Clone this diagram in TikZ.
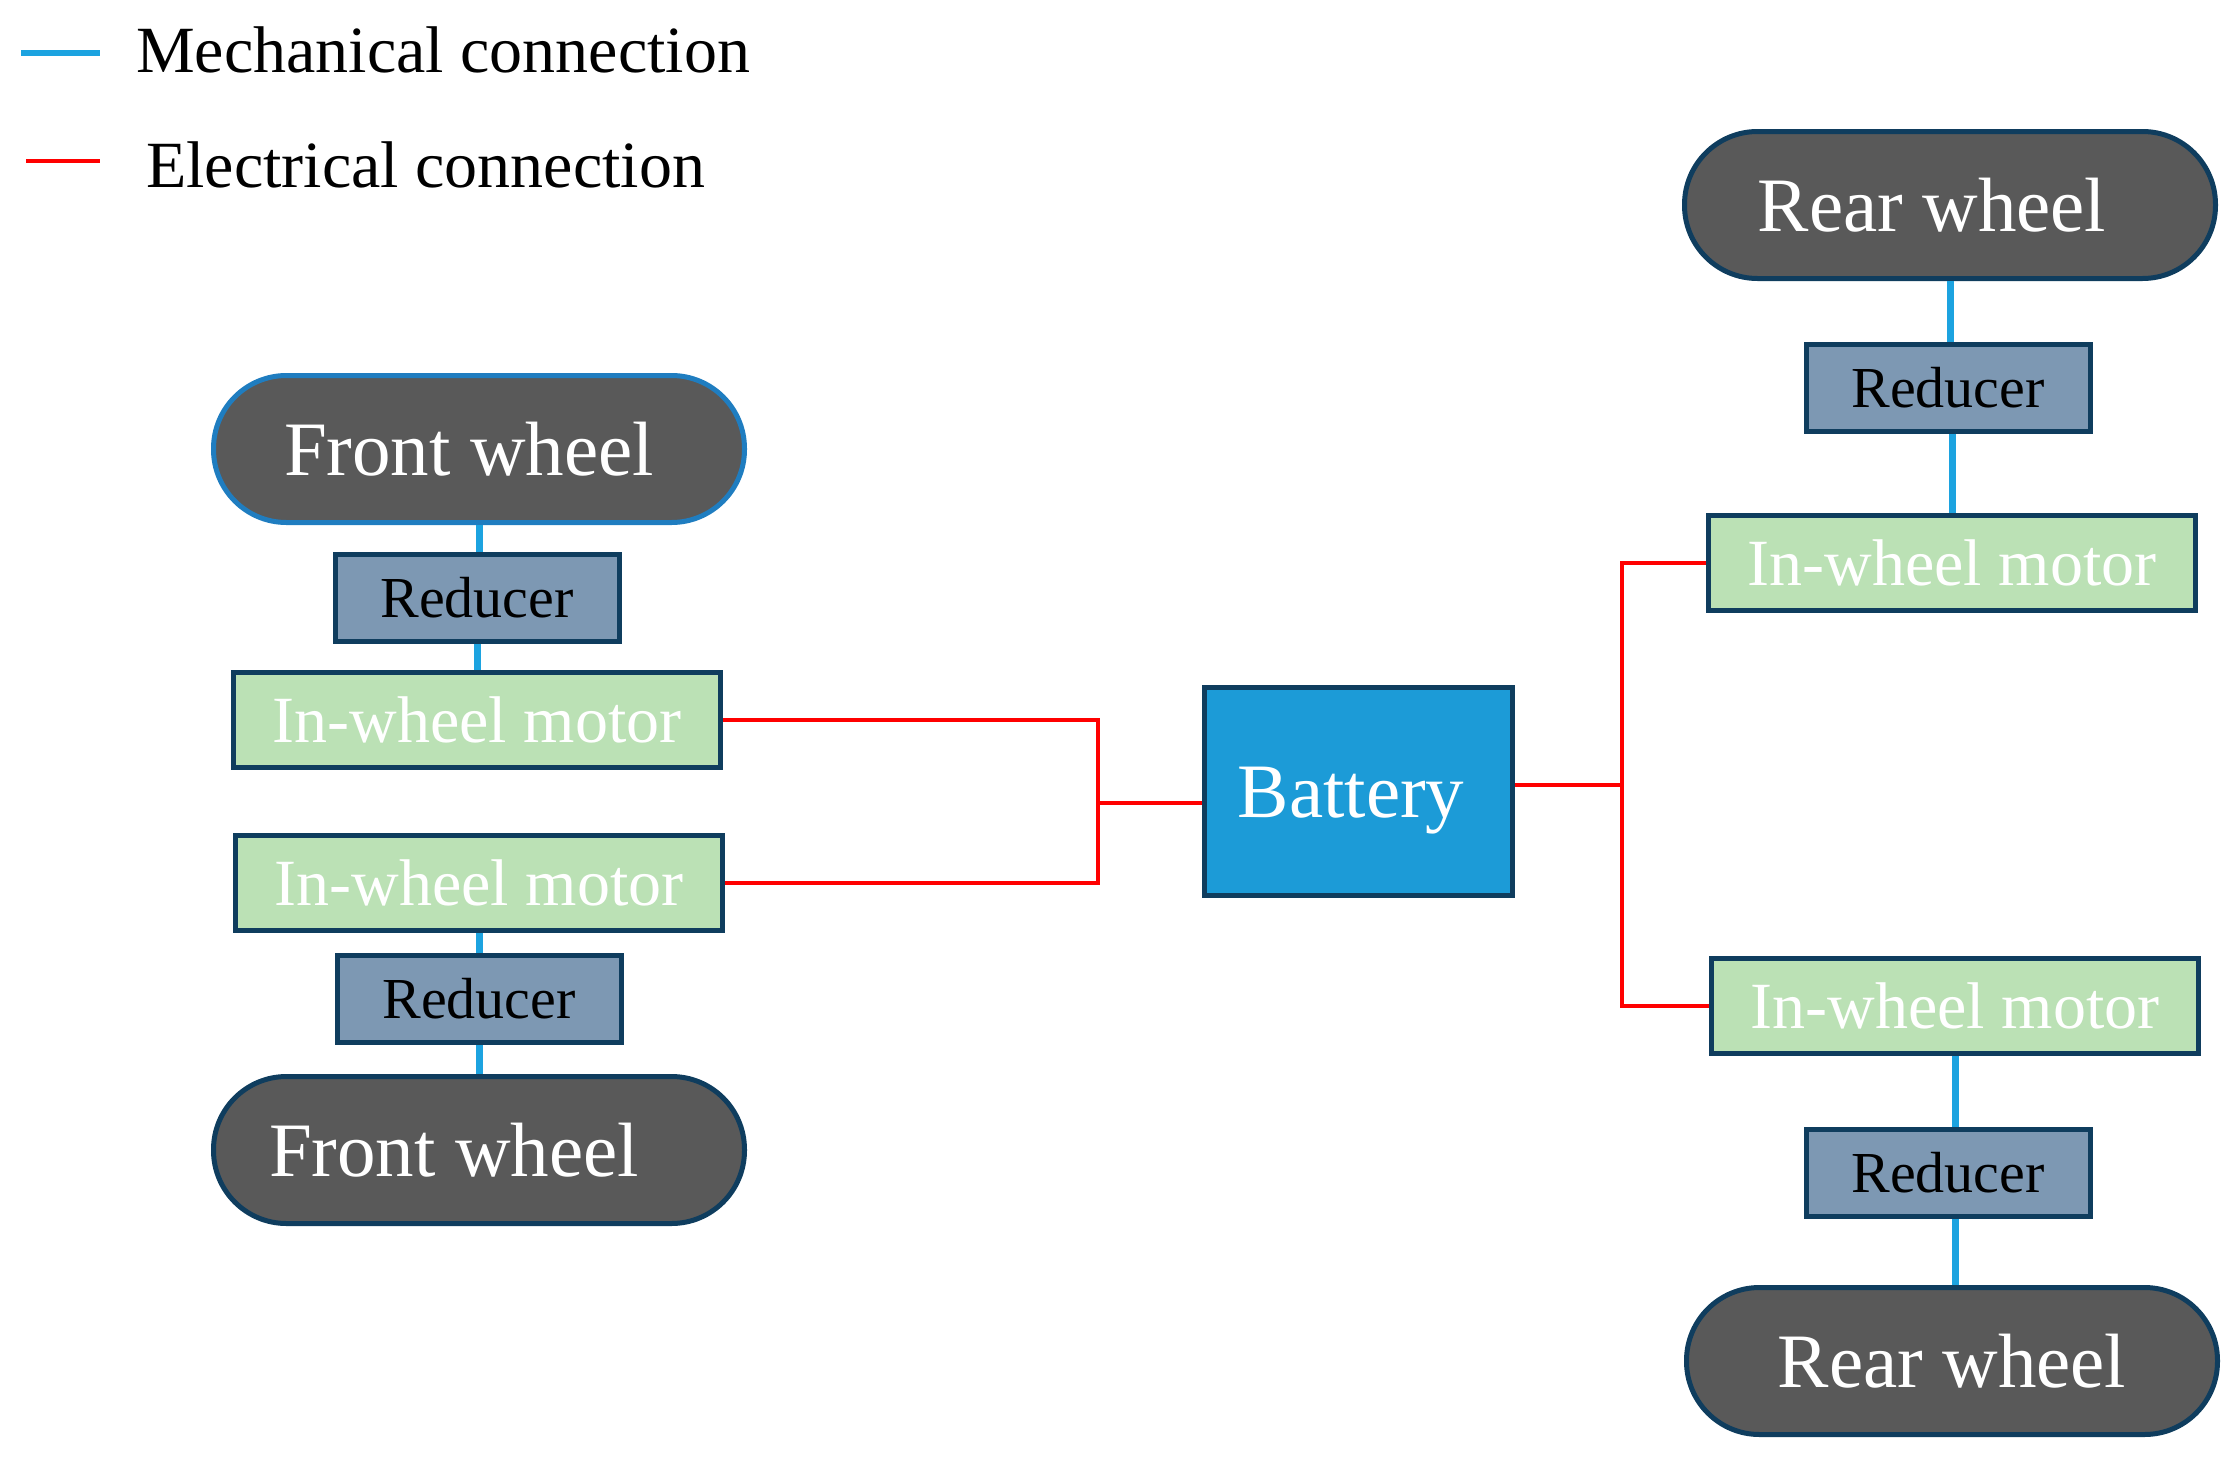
\documentclass[tikz,border=0pt]{standalone}
\usepackage{fontspec}
\setmainfont{Liberation Serif}
\definecolor{navy}{HTML}{0F3D5E}
\definecolor{brightedge}{HTML}{1F7DC0}
\definecolor{wheelgray}{HTML}{595959}
\definecolor{redfill}{HTML}{7D98B3}
\definecolor{motfill}{HTML}{BBE1B5}
\definecolor{batfill}{HTML}{1C9BD7}
\definecolor{mechblue}{HTML}{1CA3E0}
\definecolor{elecred}{HTML}{FF0000}
\begin{document}
\begin{tikzpicture}[x=1pt,y=-1pt,
  wheel/.style={draw=navy, line width=5pt, fill=wheelgray, rounded corners=73pt,
    minimum width=531pt, minimum height=147pt, inner sep=0pt, text=white,
    font=\fontsize{77}{90}\selectfont},
  reducerbox/.style={draw=navy, line width=5pt, fill=redfill, minimum width=284pt,
    minimum height=87pt, inner sep=0pt, text=black, font=\fontsize{58}{68}\selectfont},
  motorbox/.style={draw=navy, line width=5pt, fill=motfill, minimum width=487pt,
    minimum height=95pt, inner sep=0pt, text=white, font=\fontsize{66}{78}\selectfont},
  batbox/.style={draw=navy, line width=5pt, fill=batfill, minimum width=308pt,
    minimum height=208pt, inner sep=0pt, text=white, font=\fontsize{77}{90}\selectfont},
  mech/.style={draw=mechblue, line width=7pt},
  elec/.style={draw=elecred, line width=3.5pt},
  legendtext/.style={anchor=base west, inner sep=0pt, text=black, font=\fontsize{66}{78}\selectfont}]
\useasboundingbox (0,0) rectangle (2239,1467);
% legend
\coordinate (lm1) at (21,53);
\coordinate (lm2) at (100,53);
\coordinate (le1) at (26,161);
\coordinate (le2) at (100,161);
\draw[mech, line width=6pt] (lm1) -- (lm2);
\draw[elec, line width=4.5pt] (le1) -- (le2);
\node[legendtext] (lmt) at (136,72) {Mechanical connection};
\node[legendtext] (let) at (146,187) {Electrical connection};
% left side
\node[wheel, draw=brightedge] (fw1) at (479,449) {Front wheel\kern20pt};
\node[reducerbox] (r1) at (477,598) {Reducer};
\node[motorbox] (m1) at (477,720) {In-wheel motor};
\node[motorbox] (m2) at (479,883) {In-wheel motor};
\node[reducerbox] (r2) at (479,999) {Reducer};
\node[wheel] (fw2) at (479,1150) {Front wheel\kern50pt};
% battery
\node[batbox, text height=70pt, text depth=17pt] (bat) at (1358,791) {Battery\kern14pt};
% right side
\node[wheel] (rw1) at (1950,205) {Rear wheel\kern36pt};
\node[reducerbox] (r3) at (1948,388) {Reducer};
\node[motorbox] (m3) at (1952,563) {In-wheel motor};
\node[motorbox] (m4) at (1955,1006) {In-wheel motor};
\node[reducerbox] (r4) at (1948,1173) {Reducer};
\node[wheel] (rw2) at (1952,1361) {Rear wheel};
% mechanical connections
\draw[mech] (fw1.south) -- (fw1.south |- r1.north);
\draw[mech] (r1.south) -- (r1.south |- m1.north);
\draw[mech] (m2.south) -- (m2.south |- r2.north);
\draw[mech] (r2.south) -- (r2.south |- fw2.north);
\draw[mech] (rw1.south) -- (rw1.south |- r3.north);
\draw[mech] (m3.north |- r3.south) -- (m3.north);
\draw[mech] (m4.south) -- (m4.south |- r4.north);
\draw[mech] (r4.south -| m4.south) -- (rw2.north -| m4.south);
% electrical connections
\coordinate (jl) at (1098,803);
\coordinate (jr) at (1622,785);
\draw[elec] (m1.east) -| (jl) |- (m2.east);
\draw[elec] (jl) -- (bat.west |- jl);
\draw[elec] (bat.east |- jr) -- (jr);
\draw[elec] (m3.west) -| (jr) |- (m4.west);
\end{tikzpicture}
\end{document}
